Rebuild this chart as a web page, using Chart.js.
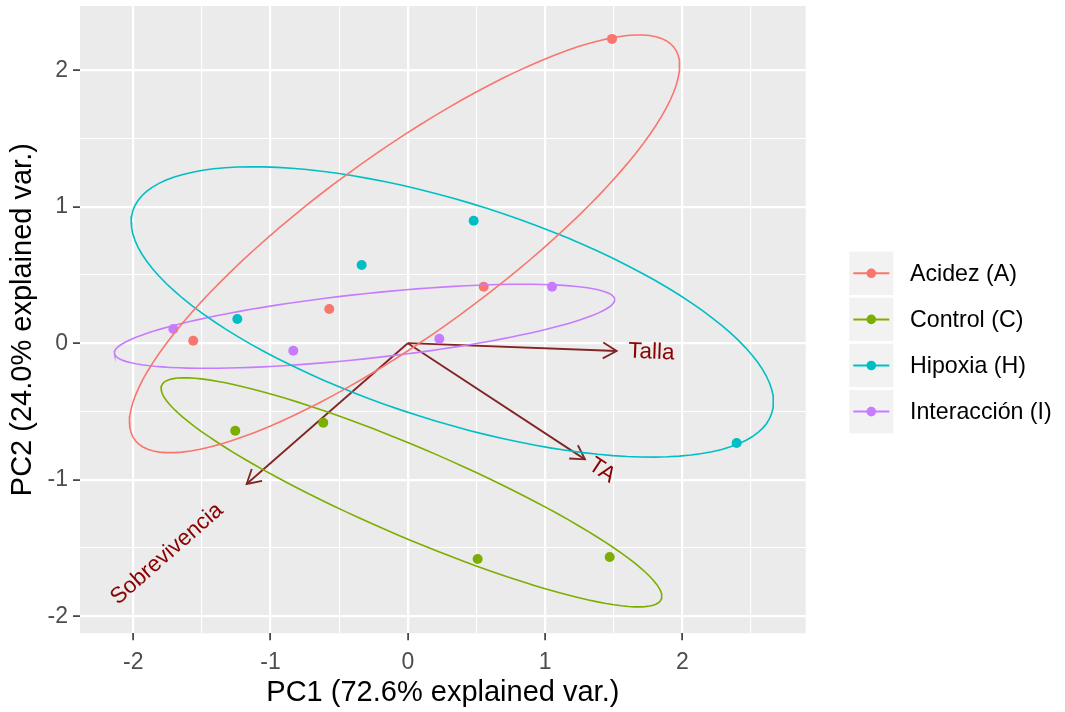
<!DOCTYPE html>
<html>
<head>
<meta charset="utf-8">
<title>PCA biplot</title>
<script src="https://cdn.jsdelivr.net/npm/chart.js@4.4.1/dist/chart.umd.min.js"></script>
<style>
  html, body { margin: 0; padding: 0; background: #ffffff; }
  #wrap { width: 1065px; height: 712px; }
</style>
</head>
<body>
<div id="wrap"><canvas id="biplot" width="1065" height="712"></canvas></div>
<script>
// ---- data ----
const groups = ['Acidez (A)', 'Control (C)', 'Hipoxia (H)', 'Interacción (I)'];
const groupColors = ['#F8766D', '#7CAE00', '#00BFC4', '#C77CFF'];

// PCA scores per treatment (PC1, PC2)
const pc1Acidez = [1.488, -1.563, -0.572, 0.553];
const pc2Acidez = [2.229, 0.018, 0.251, 0.414];
const pc1Control = [-1.257, -0.616, 0.509, 1.471];
const pc2Control = [-0.641, -0.582, -1.581, -1.566];
const pc1Hipoxia = [-1.242, -0.336, 0.480, 2.396];
const pc2Hipoxia = [0.177, 0.573, 0.897, -0.731];
const pc1Interaccion = [-1.708, -0.834, 0.230, 1.051];
const pc2Interaccion = [0.104, -0.055, 0.033, 0.414];

// variable loadings (arrows)
const variables = ['Talla', 'TA', 'Sobrevivencia'];
const loadPC1 = [1.522, 1.291, -1.174];
const loadPC2 = [-0.057, -0.851, -1.031];

// axes
const xTickValues = [-2, -1, 0, 1, 2];
const xTickLabels = ['-2', '-1', '0', '1', '2'];
const yTickValues = [-2, -1, 0, 1, 2];
const yTickLabels = ['-2', '-1', '0', '1', '2'];
const xGridValues = [-2, -1.5, -1, -0.5, 0, 0.5, 1, 1.5, 2, 2.5];
const yGridValues = [-2, -1.5, -1, -0.5, 0, 0.5, 1, 1.5, 2];
const xTitle = 'PC1 (72.6% explained var.)';
const yTitle = 'PC2 (24.0% explained var.)';

const scoresPC1 = [pc1Acidez, pc1Control, pc1Hipoxia, pc1Interaccion];
const scoresPC2 = [pc2Acidez, pc2Control, pc2Hipoxia, pc2Interaccion];

// ---- style ----
const FONT = '"Liberation Sans", Arial, Helvetica, sans-serif';
const PANEL_BG = '#EBEBEB';
const ARROW_COLOR = '#832424';
const LABEL_COLOR = '#8B0000';
const ellipseProb = 0.68;
const varnameAdjust = 1.5;

// normal-theory confidence ellipse of each group's scores
function groupEllipse(xs, ys) {
  const n = xs.length;
  const mx = xs.reduce((a, b) => a + b, 0) / n;
  const my = ys.reduce((a, b) => a + b, 0) / n;
  let sxx = 0, sxy = 0, syy = 0;
  for (let i = 0; i < n; i++) {
    const dx = xs[i] - mx, dy = ys[i] - my;
    sxx += dx * dx; sxy += dx * dy; syy += dy * dy;
  }
  sxx /= (n - 1); sxy /= (n - 1); syy /= (n - 1);
  // Cholesky factor (upper triangular) of the covariance matrix
  const r11 = Math.sqrt(sxx);
  const r12 = sxy / r11;
  const r22 = Math.sqrt(Math.max(syy - r12 * r12, 0));
  const ed = Math.sqrt(-2 * Math.log(1 - ellipseProb)); // chi-square quantile, 2 df
  const pts = [];
  const steps = 120;
  for (let k = 0; k <= steps; k++) {
    const t = -Math.PI + 2 * Math.PI * k / steps;
    const c = Math.cos(t), s = Math.sin(t);
    pts.push({ x: mx + ed * c * r11, y: my + ed * (c * r12 + s * r22) });
  }
  return pts;
}

const isMajor = v => Math.abs(v - Math.round(v)) < 1e-9;
const tickText = (values, labels, v) => {
  const i = values.findIndex(t => Math.abs(t - v) < 1e-9);
  return i >= 0 ? labels[i] : '';
};

const datasets = [];
groups.forEach((g, i) => {
  datasets.push({
    label: g + ' ellipse',
    data: groupEllipse(scoresPC1[i], scoresPC2[i]),
    showLine: true,
    borderColor: groupColors[i],
    borderWidth: 1.6,
    pointRadius: 0,
    fill: false,
    tension: 0,
    order: 1
  });
});
groups.forEach((g, i) => {
  datasets.push({
    label: g,
    data: scoresPC1[i].map((x, k) => ({ x: x, y: scoresPC2[i][k] })),
    showLine: false,
    pointRadius: 5,
    pointBackgroundColor: groupColors[i],
    pointBorderWidth: 0,
    borderColor: groupColors[i],
    order: 2
  });
});
variables.forEach((v, i) => {
  datasets.push({
    label: v,
    isArrow: true,
    data: [{ x: 0, y: 0 }, { x: loadPC1[i], y: loadPC2[i] }],
    showLine: true,
    borderColor: ARROW_COLOR,
    borderWidth: 1.8,
    pointRadius: 0,
    fill: false,
    order: 3
  });
});

// grey plotting panel
const panelPlugin = {
  id: 'panel',
  beforeDraw(chart) {
    const a = chart.chartArea, ctx = chart.ctx;
    ctx.save();
    ctx.fillStyle = PANEL_BG;
    ctx.fillRect(a.left, a.top, a.right - a.left, a.bottom - a.top);
    ctx.restore();
  }
};

// open arrow heads at the end of each loading vector
const arrowHeadPlugin = {
  id: 'arrowHeads',
  afterDatasetDraw(chart, args) {
    const ds = chart.data.datasets[args.index];
    if (!ds.isArrow) return;
    const xs = chart.scales.x, ys = chart.scales.y, ctx = chart.ctx;
    const x0 = xs.getPixelForValue(ds.data[0].x), y0 = ys.getPixelForValue(ds.data[0].y);
    const x1 = xs.getPixelForValue(ds.data[1].x), y1 = ys.getPixelForValue(ds.data[1].y);
    const ang = Math.atan2(y1 - y0, x1 - x0);
    const len = 15.8, spread = Math.PI / 6;
    ctx.save();
    ctx.strokeStyle = ds.borderColor;
    ctx.lineWidth = ds.borderWidth;
    ctx.lineCap = 'butt';
    ctx.beginPath();
    ctx.moveTo(x1 - len * Math.cos(ang - spread), y1 - len * Math.sin(ang - spread));
    ctx.lineTo(x1, y1);
    ctx.lineTo(x1 - len * Math.cos(ang + spread), y1 - len * Math.sin(ang + spread));
    ctx.stroke();
    ctx.restore();
  }
};

// variable names along their arrows
const varLabelPlugin = {
  id: 'varLabels',
  afterDatasetsDraw(chart) {
    const xs = chart.scales.x, ys = chart.scales.y, ctx = chart.ctx;
    ctx.save();
    ctx.font = '22.5px ' + FONT;
    ctx.fillStyle = LABEL_COLOR;
    ctx.textBaseline = 'middle';
    ctx.textAlign = 'left';
    variables.forEach((name, i) => {
      const px = xs.getPixelForValue(loadPC1[i]);
      const py = ys.getPixelForValue(loadPC2[i]);
      const angle = Math.atan(loadPC2[i] / loadPC1[i]);
      const hjust = (1 - varnameAdjust * Math.sign(loadPC1[i])) / 2;
      const w = ctx.measureText(name).width;
      ctx.save();
      ctx.translate(px, py);
      ctx.rotate(-angle);
      ctx.fillText(name, -hjust * w, 0);
      ctx.restore();
    });
    ctx.restore();
  }
};

// legend with keys on grey squares
const legendPlugin = {
  id: 'groupLegend',
  afterDraw(chart) {
    const ctx = chart.ctx;
    const keyLeft = 849.3, keySize = 44, firstCenter = 273.3, stride = 46.1;
    ctx.save();
    groups.forEach((g, i) => {
      const cy = firstCenter + i * stride;
      ctx.fillStyle = '#F2F2F2';
      ctx.fillRect(keyLeft, cy - 21.7, keySize, 43.4);
      ctx.strokeStyle = groupColors[i];
      ctx.lineWidth = 2;
      ctx.beginPath();
      ctx.moveTo(keyLeft + 4, cy);
      ctx.lineTo(keyLeft + 40, cy);
      ctx.stroke();
      ctx.fillStyle = groupColors[i];
      ctx.beginPath();
      ctx.arc(keyLeft + keySize / 2, cy, 4.8, 0, Math.PI * 2);
      ctx.fill();
      ctx.fillStyle = '#000000';
      ctx.font = '23.2px ' + FONT;
      ctx.textAlign = 'left';
      ctx.textBaseline = 'middle';
      ctx.fillText(g, 910, cy + 1);
    });
    ctx.restore();
  }
};

const gridStyle = {
  color: '#FFFFFF',
  lineWidth: c => (c.tick && isMajor(c.tick.value)) ? 2.2 : 1.1,
  drawOnChartArea: true,
  drawTicks: true,
  tickLength: 7,
  tickWidth: 1.6,
  tickColor: c => (c.tick && isMajor(c.tick.value)) ? '#333333' : 'rgba(0,0,0,0)'
};

new Chart(document.getElementById('biplot'), {
  type: 'scatter',
  data: { datasets: datasets },
  plugins: [panelPlugin, arrowHeadPlugin, varLabelPlugin, legendPlugin],
  options: {
    responsive: false,
    animation: false,
    events: [],
    devicePixelRatio: 1,
    layout: { padding: { top: 6, right: 259.3, bottom: 0, left: 0 } },
    plugins: { legend: { display: false }, tooltip: { enabled: false } },
    scales: {
      x: {
        type: 'linear',
        min: -2.388,
        max: 2.899,
        afterBuildTicks: s => { s.ticks = xGridValues.map(v => ({ value: v })); },
        afterFit: s => { s.height = 78.7; s.paddingLeft = 0; s.paddingRight = 0; },
        grid: gridStyle,
        border: { display: false },
        ticks: {
          autoSkip: false,
          maxRotation: 0,
          padding: 9,
          color: '#4D4D4D',
          font: { family: FONT, size: 23 },
          callback: v => tickText(xTickValues, xTickLabels, v)
        },
        title: {
          display: true,
          text: xTitle,
          color: '#000000',
          font: { family: FONT, size: 29, lineHeight: 1.2 },
          padding: { top: 0, bottom: 1.6 }
        }
      },
      y: {
        type: 'linear',
        min: -2.125,
        max: 2.470,
        afterBuildTicks: s => { s.ticks = yGridValues.map(v => ({ value: v })); },
        afterFit: s => { s.width = 80; s.paddingTop = 0; s.paddingBottom = 0; },
        grid: gridStyle,
        border: { display: false },
        ticks: {
          autoSkip: false,
          padding: 5,
          color: '#4D4D4D',
          font: { family: FONT, size: 23 },
          callback: v => tickText(yTickValues, yTickLabels, v)
        },
        title: {
          display: true,
          text: yTitle,
          color: '#000000',
          font: { family: FONT, size: 29, lineHeight: 1.2 },
          padding: { top: 5.5, bottom: 0 }
        }
      }
    }
  }
});
</script>
</body>
</html>
